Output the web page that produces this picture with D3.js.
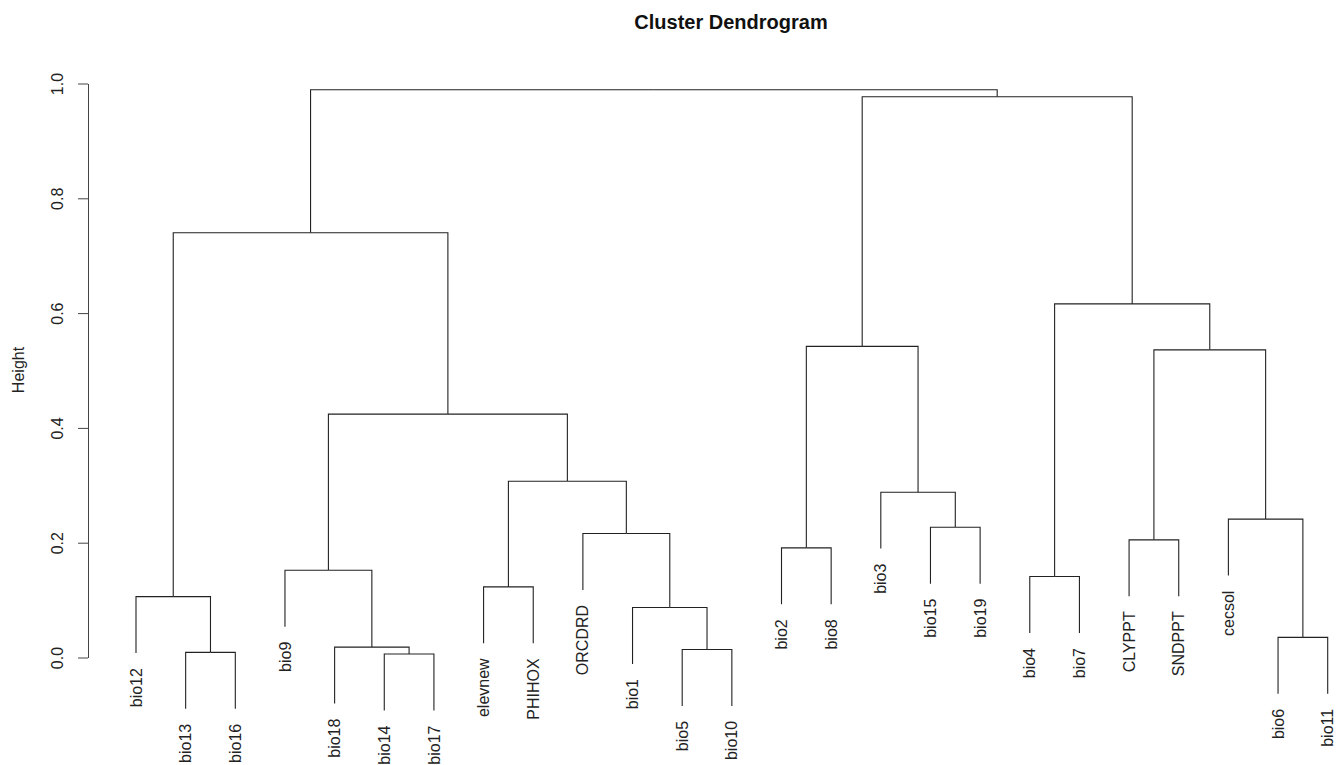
<!DOCTYPE html>
<html>
<head>
<meta charset="utf-8">
<script src="https://cdn.jsdelivr.net/npm/d3@7"></script>
<style>
  body { margin: 0; background: #fff; }
  svg { display: block; font-family: "Liberation Sans", Arial, sans-serif; }
</style>
</head>
<body>
<div id="chart"></div>
<script>
// leaf labels in plotted order
const labels = ['bio12', 'bio13', 'bio16', 'bio9', 'bio18', 'bio14', 'bio17',
  'elevnew', 'PHIHOX', 'ORCDRD', 'bio1', 'bio5', 'bio10', 'bio2', 'bio8',
  'bio3', 'bio15', 'bio19', 'bio4', 'bio7', 'CLYPPT', 'SNDPPT', 'cecsol',
  'bio6', 'bio11'];

// hclust style merge table: negative = leaf (1-based in order), positive = earlier merge
const mergeA = [-6, -2, -12, -5, -24, -11, -1, -8, -19, -4, -14, -21, -10, -17, -23, -16, 8, 10, 12, 11, 9, 7, 20, 22];
const mergeB = [-7, -3, -13, 1, -25, 3, 2, -9, -20, 4, -15, -22, 6, -18, 5, 14, 13, 17, 15, 16, 19, 18, 21, 23];
const heights = [0.006, 0.009, 0.014, 0.018, 0.035, 0.087, 0.106, 0.123, 0.141, 0.152,
  0.191, 0.205, 0.216, 0.227, 0.241, 0.288, 0.307, 0.424, 0.536, 0.542,
  0.616, 0.740, 0.977, 0.989];

const yTicks = [0, 0.2, 0.4, 0.6, 0.8, 1.0];

const W = 1338, H = 765;

let svg = d3.select('#chart').append('svg')
  .attr('width', W).attr('height', H);

let x = d3.scaleLinear().domain([1, labels.length]).range([136, 1327.7]);
let y = d3.scaleLinear().domain([0, 1]).range([657.5, 83.5]);

// build nested tree from merge table
function node(ref) {
  if (ref < 0) return { name: labels[-ref - 1], idx: -ref };
  let i = ref - 1;
  return { height: heights[i], children: [node(mergeA[i]), node(mergeB[i])] };
}
let root = d3.hierarchy(node(heights.length));

let hang = 0.1 * (d3.max(heights) - d3.min(heights));

// positions: leaves by order, internal nodes at midpoint of children
root.eachAfter(function(d) {
  if (d.children) {
    d.px = (d.children[0].px + d.children[1].px) / 2;
    d.h = d.data.height;
  } else {
    d.px = x(d.data.idx);
  }
});
root.leaves().forEach(function(d) { d.h = d.parent.h - hang; });

let g = svg.append('g').attr('class', 'dendro');

let links = [];
root.each(function(d) {
  if (!d.children) return;
  d.children.forEach(function(c) {
    links.push({ x0: d.px, y0: d.h, x1: c.px, y1: c.h });
  });
});

g.selectAll('path.link')
  .data(links)
  .enter().append('path')
    .attr('class', 'link')
    .attr('fill', 'none')
    .attr('stroke', '#222')
    .attr('stroke-width', 1.1)
    .attr('d', d => `M${d.x0},${y(d.y0)}H${d.x1}V${y(d.y1)}`);

g.selectAll('text.leaf')
  .data(root.leaves())
  .enter().append('text')
    .attr('class', 'leaf')
    .attr('transform', d => `translate(${d.px},${y(d.h) + 15}) rotate(-90)`)
    .attr('dy', '0.35em')
    .attr('text-anchor', 'end')
    .attr('font-size', 16)
    .attr('fill', '#222')
    .text(d => d.data.name);

// y axis
let axis = d3.axisLeft(y)
  .tickValues(yTicks)
  .tickFormat(d3.format('.1f'))
  .tickSizeInner(10)
  .tickSizeOuter(0);

let ax = svg.append('g')
  .attr('transform', 'translate(88,0)')
  .call(axis);

ax.select('.domain').attr('stroke', '#444');
ax.selectAll('.tick line').attr('stroke', '#444');
ax.selectAll('.tick text')
  .attr('transform', 'rotate(-90)')
  .attr('x', 0)
  .attr('y', -31)
  .attr('dy', '0.35em')
  .attr('text-anchor', 'middle')
  .attr('font-size', 16)
  .attr('fill', '#222');

svg.append('text')
  .attr('transform', 'translate(18,370) rotate(-90)')
  .attr('dy', '0.35em')
  .attr('text-anchor', 'middle')
  .attr('font-size', 16)
  .attr('fill', '#222')
  .text('Height');

svg.append('text')
  .attr('x', 731)
  .attr('y', 29)
  .attr('text-anchor', 'middle')
  .attr('font-size', 20)
  .attr('font-weight', 'bold')
  .attr('fill', '#111')
  .text('Cluster Dendrogram');
</script>
</body>
</html>
